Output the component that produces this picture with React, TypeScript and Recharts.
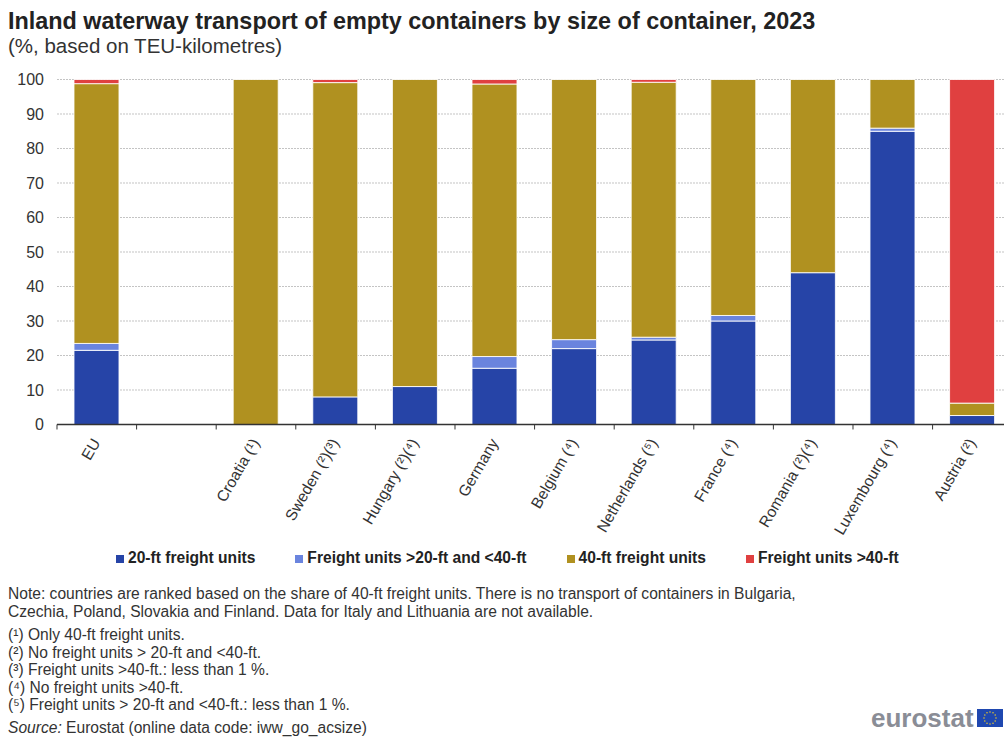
import { BarChart, Bar, XAxis, YAxis, CartesianGrid, Legend } from "recharts"

const FONT = '"Liberation Sans", Arial, sans-serif'

const countries = [
  "EU",
  " ",
  "Croatia (¹)",
  "Sweden (²)(³)",
  "Hungary (²)(⁴)",
  "Germany",
  "Belgium (⁴)",
  "Netherlands (⁵)",
  "France (⁴)",
  "Romania (²)(⁴)",
  "Luxembourg (⁴)",
  "Austria (²)",
]

const ft20 = [21.5, 0, 0, 8, 11, 16.3, 22, 24.5, 30, 44, 85, 2.6]
const ft20to40 = [2, 0, 0, 0, 0, 3.4, 2.6, 0.8, 1.6, 0, 0.9, 0]
const ft40 = [75.3, 0, 100, 91.1, 89, 79, 75.4, 73.9, 68.4, 56, 14.1, 3.6]
const ftOver40 = [1.2, 0, 0, 0.9, 0, 1.3, 0, 0.8, 0, 0, 0, 93.8]

const yTicks = [0, 10, 20, 30, 40, 50, 60, 70, 80, 90, 100]

const seriesNames = [
  "20-ft freight units",
  "Freight units >20-ft and <40-ft",
  "40-ft freight units",
  "Freight units >40-ft",
]
const seriesKeys = ["ft20", "ft20to40", "ft40", "ftOver40"]
const seriesColors = ["#2644A7", "#6A84DE", "#B09120", "#E04040"]

const noteLines = [
  "Note: countries are ranked based on the share of 40-ft freight units. There is no transport of containers in Bulgaria,",
  "Czechia, Poland, Slovakia and Finland. Data for Italy and Lithuania are not available.",
]
const footnotes = [
  "(¹) Only 40-ft freight units.",
  "(²) No freight units > 20-ft and <40-ft.",
  "(³) Freight units >40-ft.: less than 1 %.",
  "(⁴) No freight units >40-ft.",
  "(⁵) Freight units > 20-ft and <40-ft.: less than 1 %.",
]

const rows = countries.map((name, i) => ({
  name,
  ft20: ft20[i],
  ft20to40: ft20to40[i],
  ft40: ft40[i],
  ftOver40: ftOver40[i],
}))

const PLOT_LEFT = 57
const BAND = 79.6
const CHART_WIDTH = PLOT_LEFT + BAND * countries.length

// ticks sit on the category boundaries, labels hang off the band centre
function CountryTick({ x, y, payload }: any) {
  const lx = x + 4
  const ly = y + 10
  return (
    <g>
      <line x1={x - BAND / 2} x2={x - BAND / 2} y1={y - 8} y2={y - 3} stroke="#333" />
      <text
        x={lx}
        y={ly}
        textAnchor="end"
        fontSize={15.6}
        fontFamily={FONT}
        fill="#333"
        transform={`rotate(-60 ${lx} ${ly})`}
      >
        {payload.value}
      </text>
    </g>
  )
}

function ChartLegend() {
  return (
    <div style={{ display: "flex", justifyContent: "flex-start", paddingLeft: 116, fontFamily: FONT, fontWeight: 700, fontSize: 15.6, color: "#222" }}>
      {seriesNames.map((label, i) => (
        <div key={label} style={{ display: "flex", alignItems: "center", marginRight: 40 }}>
          <span style={{ width: 8, height: 8, background: seriesColors[i], marginRight: 4, marginTop: 1 }} />
          <span>{label}</span>
        </div>
      ))}
    </div>
  )
}

function Logo() {
  const stars = Array.from({ length: 12 }, (_, i) => (i * Math.PI) / 6)
  return (
    <div style={{ position: "absolute", left: 871, top: 704, width: 133, height: 28 }}>
      <span style={{ position: "absolute", left: 0, top: 0, fontFamily: FONT, fontWeight: 700, fontSize: 26, lineHeight: "28px", color: "#8A8D96" }}>
        eurostat
      </span>
      <svg style={{ position: "absolute", left: 106, top: 5 }} width={26} height={18}>
        <rect width={26} height={18} fill="#1F48B0" />
        {stars.map((a) => (
          <circle key={a} cx={13 + 6 * Math.cos(a)} cy={9 + 6 * Math.sin(a)} r={0.8} fill="#E0C030" />
        ))}
      </svg>
    </div>
  )
}

const lineStyle = { position: "absolute", left: 8, fontFamily: FONT, fontSize: 15.6, lineHeight: "17px", color: "#333", whiteSpace: "nowrap" } as const

export default function App() {
  return (
    <div style={{ position: "absolute", left: 0, top: 0, width: 1004, height: 738, overflow: "hidden", background: "#fff" }}>
      <div style={{ position: "absolute", left: 8, top: 8, fontFamily: FONT, fontWeight: 700, fontSize: 23.4, lineHeight: "26px", color: "#222", whiteSpace: "nowrap" }}>
        Inland waterway transport of empty containers by size of container, 2023
      </div>
      <div style={{ position: "absolute", left: 8, top: 35, fontFamily: FONT, fontSize: 20.5, lineHeight: "22px", color: "#333", whiteSpace: "nowrap" }}>
        (%, based on TEU-kilometres)
      </div>

      <div style={{ position: "absolute", left: 0, top: 0 }}>
        <BarChart
          width={CHART_WIDTH}
          height={738}
          data={rows}
          margin={{ top: 79.5, right: 0, bottom: 198, left: 0 }}
          barSize={45}
        >
          <CartesianGrid horizontal vertical={false} stroke="#c4c4c4" strokeDasharray="2 1" />
          <XAxis
            dataKey="name"
            interval={0}
            height={115.5}
            axisLine={{ stroke: "#333", strokeWidth: 1.5 }}
            tickLine={false}
            tick={<CountryTick />}
          />
          <YAxis
            width={PLOT_LEFT}
            domain={[0, 100]}
            ticks={yTicks}
            axisLine={false}
            tickLine={false}
            tickMargin={7}
            tick={{ fontSize: 16, fontFamily: FONT, fill: "#333" }}
          />
          <Legend verticalAlign="middle" wrapperStyle={{ top: 549, left: 0, width: 1004 }} content={<ChartLegend />} />
          {seriesKeys.map((key, i) => (
            <Bar
              key={key}
              dataKey={key}
              name={seriesNames[i]}
              stackId="share"
              fill={seriesColors[i]}
              stroke="#ffffff"
              strokeOpacity={0.85}
              strokeWidth={1}
              isAnimationActive={false}
            />
          ))}
        </BarChart>
      </div>

      {noteLines.map((line, i) => (
        <div key={line} style={{ ...lineStyle, top: 585 + i * 17.5 }}>{line}</div>
      ))}
      {footnotes.map((line, i) => (
        <div key={line} style={{ ...lineStyle, top: 626 + i * 17.5 }}>{line}</div>
      ))}
      <div style={{ ...lineStyle, top: 719 }}>
        <i>Source:</i> Eurostat (online data code: iww_go_acsize)
      </div>
      <Logo />
    </div>
  )
}
